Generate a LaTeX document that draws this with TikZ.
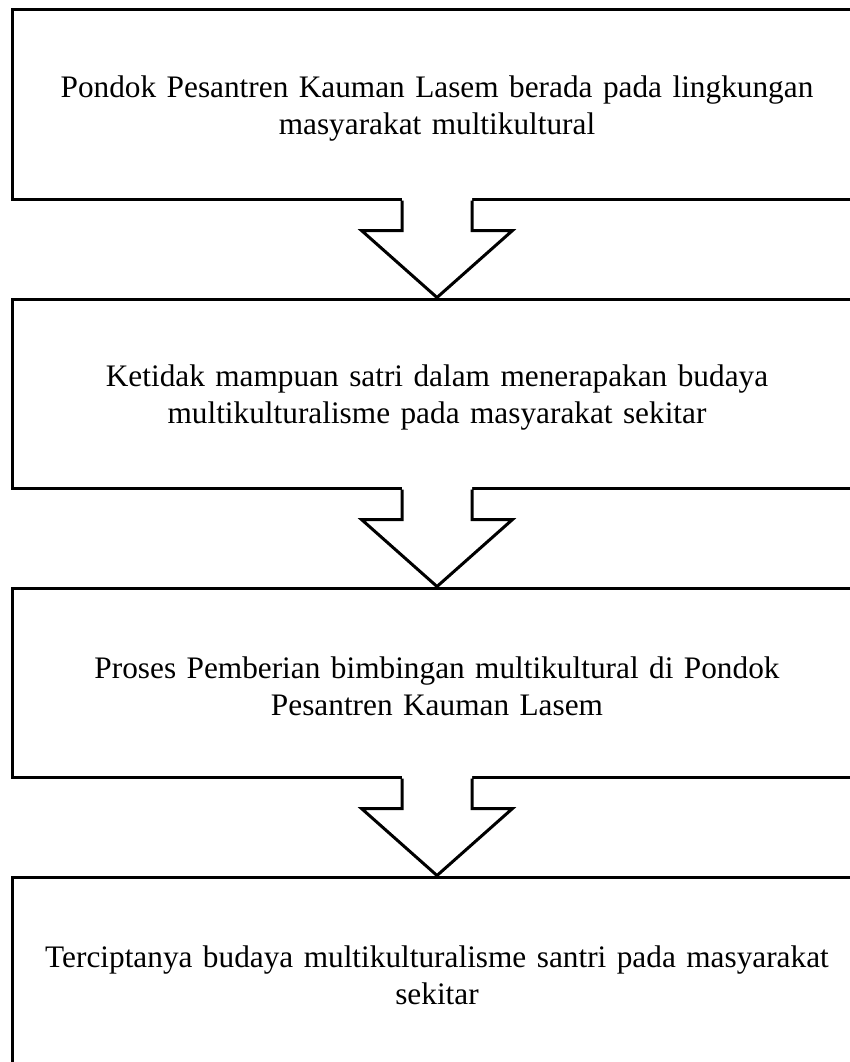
\documentclass[tikz,border=0pt]{standalone}
\usepackage{fontspec}
\setmainfont{Liberation Serif}
\usetikzlibrary{calc}
\begin{document}
\begin{tikzpicture}[x=1pt,y=-1pt,
  box/.style={draw,line width=3pt,minimum width=850pt,minimum height=189pt,inner sep=0pt},
  txt/.style={inner sep=0pt,align=center,text width=840pt,font=\fontsize{31.3}{37}\selectfont},
  arrowline/.style={line width=3pt,line join=miter}]
\useasboundingbox (0,0) rectangle (850,1062);
\clip (0,0) rectangle (850,1062);
\node[box] (b1) at (437,104.5) {};
\node[box] (b2) at (437,393.5) {};
\node[box] (b3) at (437,682.5) {};
\node[box] (b4) at (437,971.5) {};
\node[txt] (t1) at ($(b1.center)+(0,4)$) {Pondok Pesantren Kauman Lasem berada pada lingkungan\\masyarakat multikultural};
\node[txt] (t2) at ($(b2.center)+(0,4)$) {Ketidak mampuan satri dalam menerapakan budaya\\multikulturalisme pada masyarakat sekitar};
\node[txt] (t3) at ($(b3.center)+(0,4)$) {Proses Pemberian bimbingan multikultural di Pondok\\Pesantren Kauman Lasem};
\node[txt] (t4) at ($(b4.center)+(0,4)$) {Terciptanya budaya multikulturalisme santri pada masyarakat\\sekitar};
\foreach \a/\b in {b1/b2,b2/b3,b3/b4}{
  \fill[white] ($(\a.south)+(-35,-3)$) -- ($(\a.south)+(-35,30)$) -- ($(\a.south)+(-75.5,30)$)
    -- (\b.north) -- ($(\a.south)+(75.5,30)$) -- ($(\a.south)+(35,30)$) -- ($(\a.south)+(35,-3)$) -- cycle;
  \draw[arrowline] ($(\a.south)+(-35,0)$) -- ($(\a.south)+(-35,30)$) -- ($(\a.south)+(-75.5,30)$)
    -- (\b.north) -- ($(\a.south)+(75.5,30)$) -- ($(\a.south)+(35,30)$) -- ($(\a.south)+(35,0)$);
}
\end{tikzpicture}
\end{document}
